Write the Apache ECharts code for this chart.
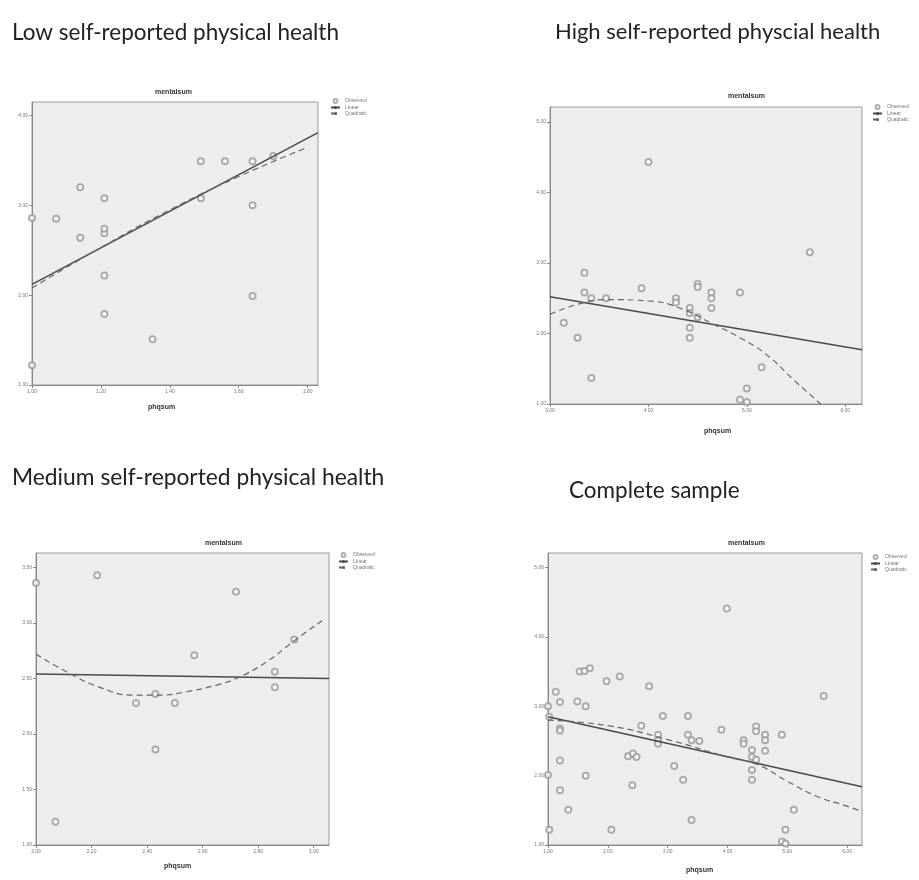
<!DOCTYPE html>
<html>
<head>
<meta charset="utf-8">
<script src="https://cdn.jsdelivr.net/npm/echarts@6/dist/echarts.min.js"></script>
<style>html,body{margin:0;padding:0;background:#fff;}#c{width:919px;height:880px;}</style>
</head>
<body>
<div id="c"></div>
<script>
// ---- Panel 1: Low self-reported physical health ----
var lowX = [1.00, 1.07, 1.14, 1.14, 1.21, 1.21, 1.21, 1.21, 1.21, 1.35, 1.49, 1.49, 1.56, 1.64, 1.64, 1.64, 1.70, 1.00];
var lowY = [2.86, 2.85, 3.20, 2.64, 3.08, 2.69, 2.74, 2.22, 1.79, 1.51, 3.49, 3.08, 3.49, 3.49, 3.00, 1.99, 3.55, 1.22];
var lowLinX = [1.00, 1.83];
var lowLinY = [2.12, 3.81];
var lowQuadX = [1.00, 1.20, 1.40, 1.60, 1.79];
var lowQuadY = [2.08, 2.53, 2.95, 3.32, 3.63];

// ---- Panel 2: High self-reported physcial health ----
var highX = [4.00, 5.64, 3.35, 3.35, 3.42, 3.57, 3.93, 3.14, 3.28, 3.42, 4.28, 4.28, 4.42, 4.42, 4.42, 4.42, 4.50, 4.50, 4.50, 4.64, 4.64, 4.64, 4.93, 5.15, 5.00, 4.93, 5.00];
var highY = [4.43, 3.15, 2.86, 2.58, 2.50, 2.50, 2.64, 2.15, 1.94, 1.37, 2.50, 2.44, 2.36, 2.29, 2.08, 1.94, 2.70, 2.66, 2.23, 2.58, 2.50, 2.36, 2.58, 1.52, 1.22, 1.06, 1.03];
var highLinX = [3.00, 6.17];
var highLinY = [2.52, 1.77];
var highQuadX = [3.00, 3.30, 3.60, 4.00, 4.28, 4.66, 4.93, 5.20, 5.47, 5.75];
var highQuadY = [2.27, 2.42, 2.48, 2.46, 2.38, 2.13, 1.94, 1.70, 1.35, 1.00];

// ---- Panel 3: Medium self-reported physical health ----
var medX = [2.00, 2.22, 2.07, 2.36, 2.43, 2.50, 2.43, 2.57, 2.72, 2.86, 2.86, 2.93];
var medY = [3.36, 3.43, 1.21, 2.28, 2.36, 2.28, 1.86, 2.71, 3.28, 2.56, 2.42, 2.85];
var medLinX = [2.00, 3.055];
var medLinY = [2.54, 2.50];
var medQuadX = [2.00, 2.11, 2.23, 2.35, 2.45, 2.54, 2.65, 2.73, 2.83, 2.93, 3.03];
var medQuadY = [2.72, 2.56, 2.42, 2.35, 2.35, 2.38, 2.44, 2.51, 2.65, 2.84, 3.02];

// ---- Panel 4: Complete sample ----
var allX = [3.99, 5.61, 1.53, 1.61, 1.70, 1.13, 1.20, 1.49, 1.63, 1.98, 2.20, 2.69, 1.02, 1.20, 1.20, 1.20, 1.20, 1.34, 1.63, 1.02, 1.00, 1.00,
            2.06, 2.41, 2.34, 2.42, 2.48, 2.56, 2.84, 2.84, 2.84, 2.92, 3.11, 3.26, 3.34, 3.34, 3.40, 3.53, 3.40, 3.90,
            4.27, 4.27, 4.41, 4.41, 4.41, 4.41, 4.48, 4.48, 4.48, 4.63, 4.63, 4.63, 4.91, 5.11, 4.97, 4.91, 4.97];
var allY = [4.41, 3.15, 3.50, 3.51, 3.55, 3.21, 3.06, 3.07, 3.00, 3.36, 3.43, 3.29, 2.85, 2.68, 2.65, 2.22, 1.79, 1.51, 2.00, 1.22, 2.01, 3.00,
            1.22, 1.86, 2.28, 2.32, 2.27, 2.72, 2.59, 2.51, 2.46, 2.86, 2.14, 1.94, 2.86, 2.59, 2.51, 2.50, 1.36, 2.66,
            2.51, 2.46, 2.37, 2.27, 2.08, 1.94, 2.71, 2.64, 2.23, 2.59, 2.51, 2.36, 2.59, 1.51, 1.22, 1.05, 1.02];
var allLinX = [1.00, 6.25];
var allLinY = [2.85, 1.84];
var allQuadX = [1.00, 2.00, 3.00, 4.00, 4.50, 5.00, 5.50, 6.00, 6.25];
var allQuadY = [2.80, 2.72, 2.52, 2.27, 2.16, 1.92, 1.70, 1.56, 1.48];

var panelTitles = ['Low self-reported physical health', 'High self-reported physcial health', 'Medium self-reported physical health', 'Complete sample'];
var legendNames = ['Observed', 'Linear', 'Quadratic'];

function pairs(xs, ys) { return xs.map(function (x, i) { return [x, ys[i]]; }); }

var panels = [
  { obs: pairs(lowX, lowY), lin: pairs(lowLinX, lowLinY), quad: pairs(lowQuadX, lowQuadY),
    grid: { left: 32, top: 102, width: 286, height: 283 },
    x: { min: 1, max: 1.83, interval: 0.2 }, y: { min: 1, max: 4.15, interval: 1 },
    title: { left: 7, top: 16, size: 22.5 }, inner: { x: 175, y: 89 }, xname: { x: 162, y: 404 }, legend: { left: 330, top: 98 } },
  { obs: pairs(highX, highY), lin: pairs(highLinX, highLinY), quad: pairs(highQuadX, highQuadY),
    grid: { left: 550, top: 107, width: 312, height: 297 },
    x: { min: 3, max: 6.17, interval: 1 }, y: { min: 1, max: 5.21, interval: 1 },
    title: { left: 550, top: 16, size: 22 }, inner: { x: 748, y: 93 }, xname: { x: 718, y: 428 }, legend: { left: 872, top: 104 } },
  { obs: pairs(medX, medY), lin: pairs(medLinX, medLinY), quad: pairs(medQuadX, medQuadY),
    grid: { left: 36, top: 553, width: 293, height: 292 },
    x: { min: 2, max: 3.055, interval: 0.2 }, y: { min: 1, max: 3.63, interval: 0.5 },
    title: { left: 7, top: 461, size: 22.8 }, inner: { x: 225, y: 540 }, xname: { x: 178, y: 863 }, legend: { left: 338, top: 552 } },
  { obs: pairs(allX, allY), lin: pairs(allLinX, allLinY), quad: pairs(allQuadX, allQuadY),
    grid: { left: 548, top: 553, width: 314, height: 292 },
    x: { min: 1, max: 6.25, interval: 1 }, y: { min: 1, max: 5.21, interval: 1 },
    title: { left: 564, top: 474, size: 22.5 }, inner: { x: 748, y: 540 }, xname: { x: 700, y: 867 }, legend: { left: 870, top: 554 } }
];

var option = { animation: false, backgroundColor: '#ffffff', title: [], grid: [], xAxis: [], yAxis: [], series: [], legend: [], graphic: [] };

function isTick(max, interval) {
  var r = max / interval;
  return Math.abs(r - Math.round(r)) < 1e-6;
}

panels.forEach(function (p, i) {
  option.title.push({ text: panelTitles[i], left: p.title.left, top: p.title.top,
    textStyle: { fontFamily: 'Lato', fontSize: p.title.size, fontWeight: 'normal', color: '#222' } });
  option.graphic.push({ type: 'text', left: p.inner.x - 20, top: p.inner.y,
    style: { text: 'mentalsum', font: 'bold 7px Liberation Sans', fill: '#333' } });
  option.graphic.push({ type: 'text', left: p.xname.x - 14, top: p.xname.y,
    style: { text: 'phqsum', font: 'bold 7px Liberation Sans', fill: '#333' } });
  option.grid.push({ left: p.grid.left, top: p.grid.top, width: p.grid.width, height: p.grid.height,
    show: true, backgroundColor: '#ededed', borderColor: '#9a9a9a', borderWidth: 1, containLabel: false });
  function axisCfg(showMax) {
    return {
      axisLine: { show: true, onZero: false, lineStyle: { color: '#888', width: 1 } },
      axisTick: { show: true, length: 3, lineStyle: { color: '#888' } },
      axisLabel: { fontSize: 5, color: '#777', fontFamily: 'Liberation Sans', margin: 4, showMaxLabel: showMax,
        formatter: function (v) { return (Math.round(v * 100) / 100).toFixed(2); } },
      splitLine: { show: false }
    };
  }
  option.xAxis.push(Object.assign({ type: 'value', gridIndex: i, min: p.x.min, max: p.x.max, interval: p.x.interval },
    axisCfg(isTick(p.x.max, p.x.interval))));
  option.yAxis.push(Object.assign({ type: 'value', gridIndex: i, min: p.y.min, max: p.y.max, interval: p.y.interval },
    axisCfg(isTick(p.y.max, p.y.interval))));
  option.series.push({ name: 'Observed', type: 'scatter', xAxisIndex: i, yAxisIndex: i, data: p.obs,
    symbol: 'emptyCircle', symbolSize: 6, itemStyle: { color: '#9a9a9a', borderColor: '#939393', borderWidth: 0.8 } });
  option.series.push({ name: 'Linear', type: 'line', xAxisIndex: i, yAxisIndex: i, data: p.lin, showSymbol: false, symbol: 'none',
    lineStyle: { color: '#4a4a4a', width: 1.5 }, itemStyle: { color: '#4a4a4a' }, clip: true });
  option.series.push({ name: 'Quadratic', type: 'line', xAxisIndex: i, yAxisIndex: i, data: p.quad, smooth: true, showSymbol: false, symbol: 'none',
    lineStyle: { color: '#666', width: 1.2, type: [6, 4] }, itemStyle: { color: '#666' }, clip: true });
  option.legend.push({ data: legendNames, left: p.legend.left, top: p.legend.top, orient: 'vertical', itemGap: 1,
    itemWidth: 9, itemHeight: 4, selectedMode: false, padding: 0,
    textStyle: { fontSize: 5, color: '#777', fontFamily: 'Liberation Sans', padding: [0, 0, 0, 0] } });
});

var chart = echarts.init(document.getElementById('c'), null, { renderer: 'canvas' });
chart.setOption(option);
</script>
</body>
</html>
